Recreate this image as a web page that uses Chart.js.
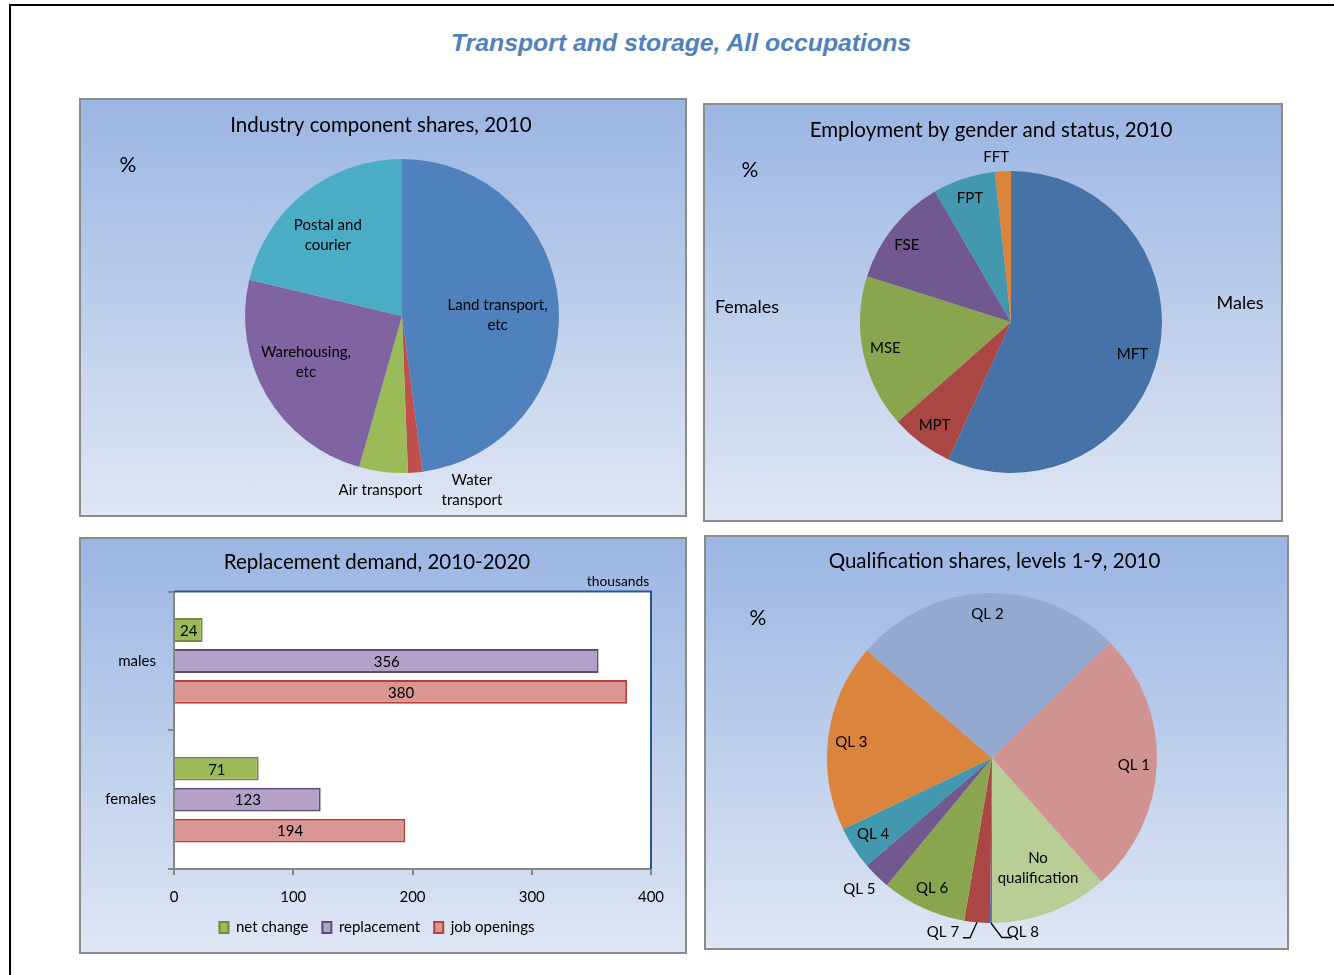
<!DOCTYPE html>
<html>
<head>
<meta charset="utf-8">
<title>Transport and storage, All occupations</title>
<script src="https://cdn.jsdelivr.net/npm/chart.js@4.4.0/dist/chart.umd.min.js"></script>
<style>
  html, body { margin: 0; padding: 0; background: #fff; overflow: hidden; }
  body { width: 1334px; height: 975px; position: relative; }
  #frame { position: absolute; left: 9px; top: 4px; width: 1400px; height: 1000px;
           border-top: 2px solid #000; border-left: 2px solid #000; }
  #mainTitle { position: absolute; left: 0; top: 29px; width: 1362px; line-height: 28px; text-align: center;
               font: italic bold 24.8px "Liberation Sans", Arial, sans-serif; color: #4f81bd; }
  .panel { position: absolute; box-sizing: border-box; border: 2px solid #8b8b8b;
           background: linear-gradient(to bottom, #9bb6e3 0%, #dfe6f4 100%); }
  .panel canvas { position: absolute; left: 0; top: 0; }
</style>
</head>
<body>
<div id="frame"></div>
<div id="mainTitle">Transport and storage, All occupations</div>

<div class="panel" style="left:79px; top:98px; width:608px; height:419px;">
  <canvas id="industry" width="604" height="415"></canvas>
</div>
<div class="panel" style="left:703px; top:103px; width:580px; height:419px;">
  <canvas id="status" width="576" height="415"></canvas>
</div>
<div class="panel" style="left:79px; top:537px; width:608px; height:417px;">
  <canvas id="demand" width="604" height="413"></canvas>
</div>
<div class="panel" style="left:704px; top:535px; width:585px; height:415px;">
  <canvas id="qualif" width="581" height="411"></canvas>
</div>

<script>
  const FONT = 'Lato, "Open Sans", sans-serif';

  // Industry component shares, 2010 (%)
  const industryLabels = [["Land transport,", "etc"], ["Water", "transport"], "Air transport", ["Warehousing,", "etc"], ["Postal and", "courier"]];
  const industryShares = [47.9, 1.5, 5.0, 24.3, 21.3];
  const industryColors = ["#4f81bd", "#c0504d", "#9bbb59", "#8064a2", "#4bacc6"];

  // Employment by gender and status, 2010 (%)
  const statusLabels = ["MFT", "MPT", "MSE", "FSE", "FPT", "FFT"];
  const statusShares = [56.8, 6.7, 16.4, 11.7, 6.7, 1.7];
  const statusColors = ["#4672a8", "#aa4643", "#89a54e", "#71588f", "#4198af", "#db843d"];

  // Replacement demand, 2010-2020 (thousands)
  const genders = ["males", "females"];
  const netChange = [24, 71];
  const replacement = [356, 123];
  const jobOpenings = [380, 194];
  const demandMax = 400;
  const demandStep = 100;

  // Qualification shares, levels 1-9, 2010 (%)
  const qualLabels = ["QL 8", "QL 7", "QL 6", "QL 5", "QL 4", "QL 3", "QL 2", "QL 1", ["No", "qualification"]];
  const qualShares = [0.2, 2.5, 8.3, 2.7, 4.2, 18.4, 26.4, 25.8, 11.5];
  const qualColors = ["#4a7ebb", "#aa4643", "#89a54e", "#71588f", "#4198af", "#db843d", "#93a9cf", "#d19392", "#b9cd96"];

  Chart.defaults.font.family = FONT;
  Chart.defaults.color = "#000";

  // free text (titles, "%", side notes)
  const notes = {
    id: "notes",
    afterDraw(chart, args, opts) {
      const ctx = chart.ctx;
      ctx.save();
      ctx.fillStyle = "#000";
      ctx.textBaseline = "middle";
      (opts.items || []).forEach(n => {
        ctx.font = n.size + "px " + FONT;
        ctx.textAlign = n.align || "center";
        ctx.fillText(n.text, n.x, n.y);
      });
      ctx.restore();
    }
  };

  // labels placed from each arc's own geometry
  const sliceLabels = {
    id: "sliceLabels",
    afterDatasetsDraw(chart, args, opts) {
      const ctx = chart.ctx;
      const meta = chart.getDatasetMeta(0);
      ctx.save();
      ctx.font = opts.size + "px " + FONT;
      ctx.fillStyle = "#000";
      ctx.strokeStyle = "#000";
      ctx.lineWidth = 1.3;
      ctx.textAlign = "center";
      ctx.textBaseline = "middle";
      meta.data.forEach((arc, i) => {
        const p = opts.place[i];
        const a = arc.getProps(["x", "y", "startAngle", "endAngle", "outerRadius"], true);
        const mid = (a.startAngle + a.endAngle) / 2;
        const lx = a.x + Math.cos(mid) * a.outerRadius * p.f + (p.dx || 0);
        const ly = a.y + Math.sin(mid) * a.outerRadius * p.f + (p.dy || 0);
        const label = chart.data.labels[i];
        const lines = Array.isArray(label) ? label : [label];
        lines.forEach((t, k) => ctx.fillText(t, lx, ly + (k - (lines.length - 1) / 2) * opts.lineHeight));
        if (p.leader) {
          const ex = a.x + Math.cos(mid) * a.outerRadius;
          const ey = a.y + Math.sin(mid) * a.outerRadius;
          ctx.beginPath();
          ctx.moveTo(ex, ey);
          ctx.lineTo(lx + p.leader[0], ly + p.leader[2]);
          ctx.lineTo(lx + p.leader[1], ly + p.leader[2]);
          ctx.stroke();
        }
      });
      ctx.restore();
    }
  };

  function pieChart(id, labels, values, colors, radius, rotation, padding, place, items) {
    return new Chart(document.getElementById(id), {
      type: "pie",
      data: {
        labels: labels,
        datasets: [{
          data: values,
          backgroundColor: colors,
          borderWidth: 0,
          hoverOffset: 0,
          radius: radius,
          rotation: rotation
        }]
      },
      options: {
        responsive: false,
        animation: false,
        layout: { padding: padding },
        plugins: {
          legend: { display: false },
          tooltip: { enabled: false },
          sliceLabels: { size: 15, lineHeight: 20, place: place },
          notes: { items: items }
        }
      },
      plugins: [sliceLabels, notes]
    });
  }

  pieChart("industry", industryLabels, industryShares, industryColors, 157, 0,
    { left: 40, right: 2, top: 37, bottom: 20 },
    [
      { f: 0.61, dx: 0, dy: 5 },
      { f: 1.12, dx: 55, dy: -1 },
      { f: 1.10, dx: -1, dy: 3 },
      { f: 0.68, dx: -4, dy: -8 },
      { f: 0.70, dx: -6, dy: 5 }
    ],
    [
      { text: "Industry component shares, 2010", x: 300, y: 25, size: 20.5 },
      { text: "%", x: 47, y: 65, size: 21 }
    ]);

  pieChart("status", statusLabels, statusShares, statusColors, 151, 0,
    { left: 36, right: 0, top: 37, bottom: 18 },
    [
      { f: 0.83, dx: -1, dy: 6 },
      { f: 0.85 },
      { f: 0.85 },
      { f: 0.85, dx: -4, dy: 3 },
      { f: 0.85, dx: -1, dy: -2 },
      { f: 1.09, dx: -6, dy: 0 }
    ],
    [
      { text: "Employment by gender and status, 2010", x: 286, y: 25, size: 20.5 },
      { text: "%", x: 45, y: 65, size: 21 },
      { text: "Females", x: 42, y: 202, size: 18 },
      { text: "Males", x: 535, y: 198, size: 18 }
    ]);

  pieChart("qualif", qualLabels, qualShares, qualColors, 165, 180,
    { left: 0, right: 9, top: 36, bottom: 5 },
    [
      { f: 1.1, dx: 32, dy: -7.5, leader: [-21, -11, 5.5] },
      { f: 1.1, dx: -32.5, dy: -7, leader: [27, 20, 6] },
      { f: 0.87 },
      { f: 1.13, dx: -2, dy: -2 },
      { f: 0.86, dy: -1.5 },
      { f: 0.86, dy: 2.5 },
      { f: 0.87 },
      { f: 0.86, dy: 1.5 },
      { f: 0.72, dx: 4, dy: -1 }
    ],
    [
      { text: "Qualification shares, levels 1-9, 2010", x: 288.5, y: 24, size: 20.5 },
      { text: "%", x: 52, y: 81, size: 21 }
    ]);

  // white plot area with the dark blue top/right edge
  const plotFrame = {
    id: "plotFrame",
    beforeDraw(chart) {
      const { ctx, chartArea: a } = chart;
      ctx.save();
      ctx.fillStyle = "#fff";
      ctx.fillRect(a.left, a.top, a.right - a.left, a.bottom - a.top);
      ctx.restore();
    },
    afterDraw(chart) {
      const { ctx, chartArea: a } = chart;
      ctx.save();
      ctx.strokeStyle = "#2a5690";
      ctx.lineWidth = 2;
      ctx.beginPath();
      ctx.moveTo(a.left, a.top);
      ctx.lineTo(a.right, a.top);
      ctx.lineTo(a.right, a.bottom);
      ctx.stroke();
      ctx.restore();
    }
  };

  const barValues = {
    id: "barValues",
    afterDatasetsDraw(chart) {
      const ctx = chart.ctx;
      ctx.save();
      ctx.font = "15px " + FONT;
      ctx.fillStyle = "#000";
      ctx.textAlign = "center";
      ctx.textBaseline = "middle";
      chart.data.datasets.forEach((ds, i) => {
        chart.getDatasetMeta(i).data.forEach((bar, j) => {
          const p = bar.getProps(["x", "y", "base"], true);
          ctx.fillText(ds.data[j], (p.x + p.base) / 2, p.y + 1);
        });
      });
      ctx.restore();
    }
  };

  new Chart(document.getElementById("demand"), {
    type: "bar",
    data: {
      labels: genders,
      datasets: [
        { label: "net change", data: netChange, backgroundColor: "#9bbb59", borderColor: "#71893f", borderWidth: 2 },
        { label: "replacement", data: replacement, backgroundColor: "#b3a2c7", borderColor: "#5f497a", borderWidth: 2 },
        { label: "job openings", data: jobOpenings, backgroundColor: "#d99694", borderColor: "#b3403d", borderWidth: 2 }
      ]
    },
    options: {
      indexAxis: "y",
      responsive: false,
      animation: false,
      categoryPercentage: 0.67,
      barPercentage: 0.77,
      layout: { padding: { left: 22, right: 34, top: 0, bottom: 7 } },
      scales: {
        x: {
          min: 0,
          max: demandMax,
          ticks: { stepSize: demandStep, color: "#000", font: { size: 15 }, padding: 13 },
          grid: { drawOnChartArea: false, tickLength: 6, color: "#868686", lineWidth: 2 },
          border: { color: "#868686", width: 2 },
          afterFit(scale) { scale.height = 37; }
        },
        y: {
          ticks: { color: "#000", font: { size: 15 }, padding: 12 },
          grid: { drawOnChartArea: false, tickLength: 6, color: "#868686", lineWidth: 2, offset: true },
          border: { color: "#868686", width: 2 },
          afterFit(scale) { scale.width = 71; }
        }
      },
      plugins: {
        title: {
          display: true,
          text: "Replacement demand, 2010-2020",
          color: "#000",
          font: { size: 20.5, weight: "normal" },
          padding: { top: 11, bottom: 17 }
        },
        legend: {
          position: "bottom",
          labels: { boxWidth: 9, boxHeight: 11, color: "#000", font: { size: 15 }, padding: 14 }
        },
        tooltip: { enabled: false },
        notes: { items: [{ text: "thousands", x: 537, y: 43, size: 13.8 }] }
      }
    },
    plugins: [plotFrame, barValues, notes]
  });
</script>
</body>
</html>
